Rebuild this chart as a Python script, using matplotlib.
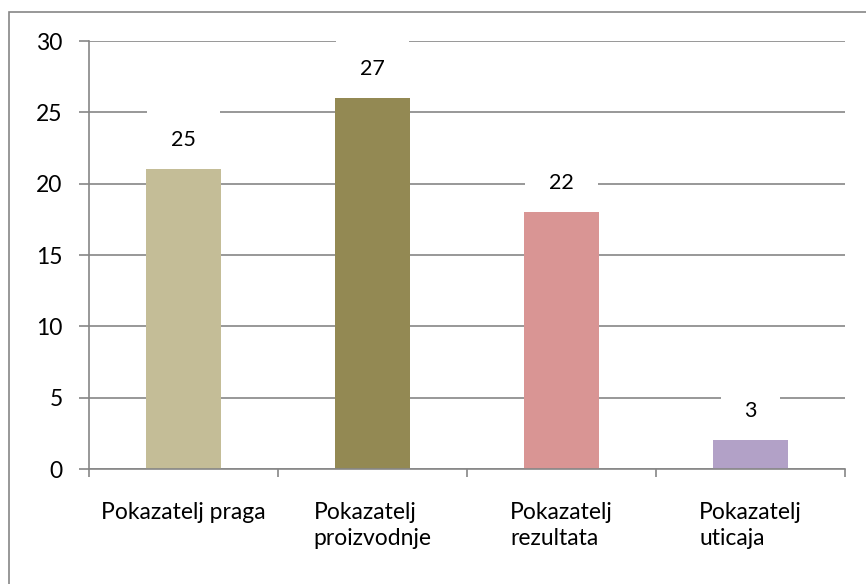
import matplotlib.pyplot as plt
from matplotlib.patches import Rectangle

categories = ["Pokazatelj praga", "Pokazatelj\nproizvodnje", "Pokazatelj\nrezultata", "Pokazatelj\nuticaja"]
bar_heights = [21, 26, 18, 2]
bar_labels = ["25", "27", "22", "3"]
colors = ["#C4BD97", "#938953", "#D99594", "#B2A1C7"]
y_ticks = [0, 5, 10, 15, 20, 25, 30]

plt.rcParams['font.family'] = ['Lato', 'DejaVu Sans']
grey = "#868686"
fs = 16.5

W, H = 866, 584
fig = plt.figure(figsize=(W / 100, H / 100), dpi=100)
ax = fig.add_axes([89 / W, 1 - 469 / H, (845 - 89) / W, (469 - 41) / H])

x = list(range(len(categories)))
ax.bar(x, bar_heights, width=0.40, color=colors, zorder=4)

for xi, h, lab in zip(x, bar_heights, bar_labels):
    ax.annotate(lab, (xi, h), xytext=(0, 21), textcoords="offset points",
                ha="center", va="center", fontsize=fs - 1, zorder=3,
                bbox=dict(boxstyle="square,pad=1.1", fc="white", ec="none"))

ax.set_xlim(-0.5, len(categories) - 0.5)
ax.set_ylim(0, 30)
ax.set_yticks(y_ticks)
ax.set_xticks(x)
ax.set_xticklabels(categories, fontsize=fs, multialignment="left", linespacing=1.25)
ax.set_xticks([i - 0.5 for i in range(len(categories) + 1)], minor=True)
ax.tick_params(axis="x", which="major", length=0, pad=24)
ax.tick_params(axis="x", which="minor", length=6, color=grey, width=1.2)
ax.tick_params(axis="y", length=7, color=grey, width=1.2, labelsize=fs, pad=12)

ax.grid(axis="y", color=grey, lw=1.2, zorder=1)
ax.set_axisbelow(True)
for s in ["top", "right"]:
    ax.spines[s].set_visible(False)
for s in ["left", "bottom"]:
    ax.spines[s].set_color(grey)
    ax.spines[s].set_linewidth(1.2)
    ax.spines[s].set_zorder(5)

# outer chart border (right and bottom edges fall outside the image)
fig.patches.append(Rectangle((9 / W, -0.1), 1.2, 1.1 - 12 / H,
                             transform=fig.transFigure, fill=False, ec=grey, lw=1.2))

fig.savefig("out.png", dpi=100)
